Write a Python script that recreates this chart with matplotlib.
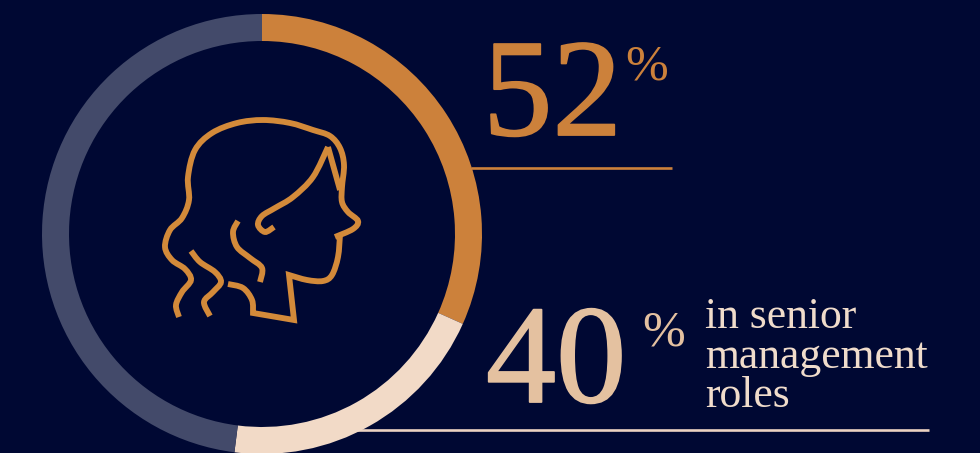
import matplotlib
matplotlib.use('Agg')
import matplotlib.pyplot as plt
import matplotlib.patheffects as pe
from matplotlib.path import Path
from matplotlib.patches import PathPatch

# headline figures
women_pct = 52
senior_pct = 40

# ring segments in percent, as drawn: orange, cream, then the remainder
ring_values = [31.7, 20.3, 48]
ring_colors = ['#CC813B', '#F2DAC7', '#434A6A']

label_lines = ['in senior', 'management', 'roles']

BG = '#000833'
ICON = '#D38A3A'

# head icon, in pixels; each stroke is a list of smooth sections joined at corners
outline = [
    [(179, 317), (176, 305), (182, 292), (191, 280), (185, 269), (172, 260), (165, 247),
     (170, 230), (182, 218), (189, 200), (188, 177), (195, 150), (212, 133), (237, 123),
     (263, 120), (290, 123), (313, 130), (330, 136), (340, 148), (344, 165), (342, 187),
     (342, 202), (348, 212), (358, 221), (353, 229), (335, 237)],
]
jaw = [
    [(340, 235), (338, 257), (332, 275), (323, 281), (307, 280), (289, 275)],
    [(289, 275), (294, 320)],
    [(294, 320), (253, 313)],
    [(253, 313), (252, 300), (243, 288), (228, 284)],
]
strand_front = [
    [(328, 147), (313, 177), (293, 197), (275, 208), (262, 216), (258, 225), (265, 232), (274, 227)],
]
forehead = [
    [(328, 147), (340, 190)],
]
strand_mid = [
    [(238, 221), (233, 232), (237, 247), (250, 258), (262, 268), (260, 282)],
]
strand_low = [
    [(191, 251), (200, 262), (215, 272), (221, 282), (213, 292), (204, 302), (210, 316)],
]
icon_strokes = [outline, jaw, strand_front, forehead, strand_mid, strand_low]


def smooth_path(sections):
    # Catmull-Rom through the points of each section, written as cubic beziers
    verts = [sections[0][0]]
    codes = [Path.MOVETO]
    for pts in sections:
        if pts[0] != verts[-1]:
            verts.append(pts[0])
            codes.append(Path.LINETO)
        for i in range(len(pts) - 1):
            p0 = pts[max(i - 1, 0)]
            p1 = pts[i]
            p2 = pts[i + 1]
            p3 = pts[min(i + 2, len(pts) - 1)]
            c1 = (p1[0] + (p2[0] - p0[0]) / 6, p1[1] + (p2[1] - p0[1]) / 6)
            c2 = (p2[0] - (p3[0] - p1[0]) / 6, p2[1] - (p3[1] - p1[1]) / 6)
            verts += [c1, c2, p2]
            codes += [Path.CURVE4] * 3
    return Path(verts, codes)


fig = plt.figure(figsize=(9.8, 4.53), dpi=100, facecolor=BG)
ax = fig.add_axes([0, 0, 1, 1])
ax.set_facecolor(BG)

# ring, clockwise from the top once the y axis is flipped below
ax.pie(ring_values, colors=ring_colors, center=(262, 234), radius=220, startangle=-90,
       counterclock=True, wedgeprops={'width': 27, 'linewidth': 0})

ax.set_xlim(0, 980)
ax.set_ylim(453, 0)
ax.set_aspect('auto')
ax.axis('off')

for sections in icon_strokes:
    ax.add_patch(PathPatch(smooth_path(sections), fill=False, edgecolor=ICON, linewidth=4.2,
                           capstyle='butt', joinstyle='miter'))

# rules under the two figures; the lower one passes behind the ring
ax.plot([471, 672], [167.5, 167.5], color='#CC813B', lw=1.9, zorder=0.5, solid_capstyle='butt')
ax.plot([350, 929], [429.5, 429.5], color='#EBD2C2', lw=1.9, zorder=0.5, solid_capstyle='butt')

serif = 'Liberation Serif'
heavy_52 = [pe.withStroke(linewidth=1.3, foreground='#CC813B')]
heavy_40 = [pe.withStroke(linewidth=1.3, foreground='#E4C1A0')]
ax.text(483, 135, str(women_pct), color='#CC813B', fontsize=100, family=serif, va='baseline',
        path_effects=heavy_52)
ax.text(625, 80, '%', color='#CC813B', fontsize=37, family=serif, va='baseline')
ax.text(486, 402, str(senior_pct), color='#E4C1A0', fontsize=101, family=serif, va='baseline',
        path_effects=heavy_40)
ax.text(642, 346, '%', color='#E4C1A0', fontsize=37, family=serif, va='baseline')

for line, base in zip(label_lines, [328, 368, 407]):
    ax.text(705, base, line, color='#F0DCCB', fontsize=31.4, family=serif, va='baseline')

fig.savefig('out.png', dpi=100, facecolor=BG)
